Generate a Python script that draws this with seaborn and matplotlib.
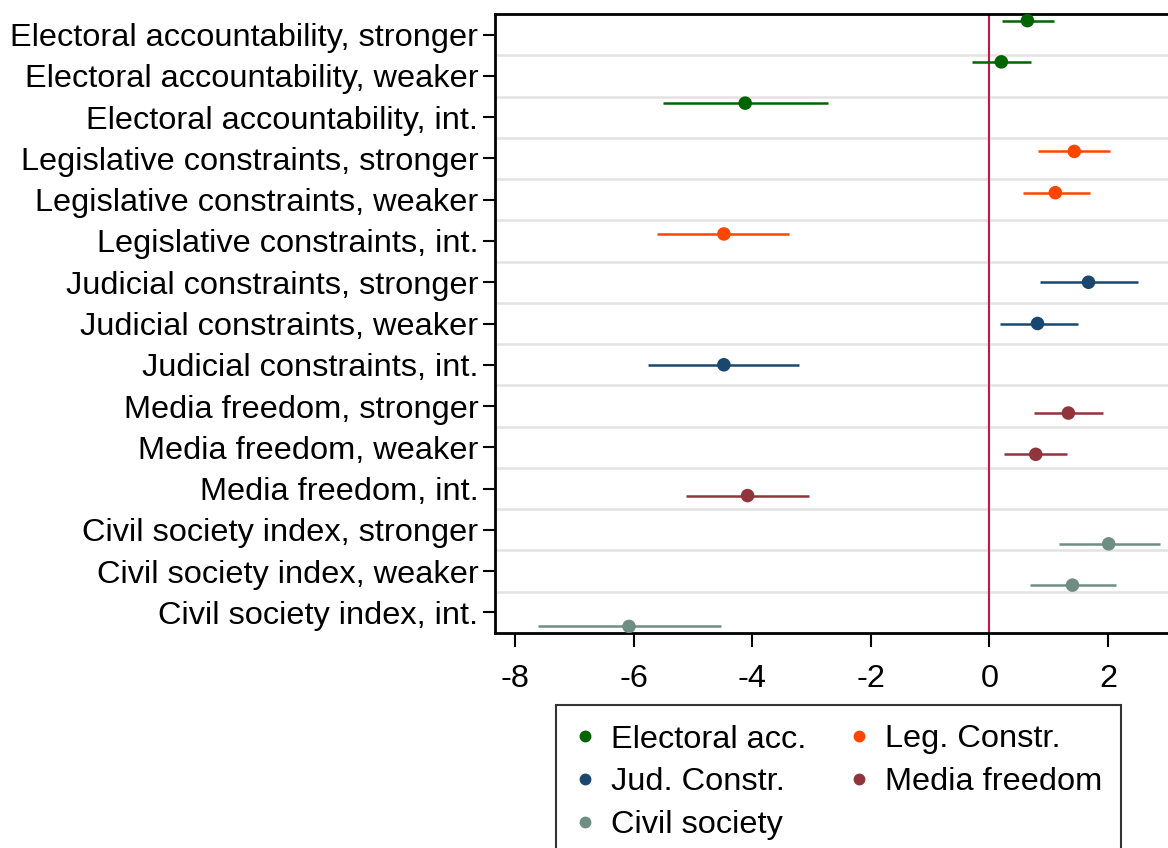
import numpy as np
import pandas as pd
import seaborn as sns
import matplotlib.pyplot as plt
from matplotlib.lines import Line2D

# Coefficients and 95% CIs, one list per index
series = ["Electoral acc.", "Leg. Constr.", "Jud. Constr.", "Media freedom", "Civil society"]
long_names = ["Electoral accountability", "Legislative constraints", "Judicial constraints",
              "Media freedom", "Civil society index"]
kinds = ["stronger", "weaker", "int."]

coef_elec = [0.64, 0.20, -4.12]
lo_elec = [0.21, -0.30, -5.50]
hi_elec = [1.08, 0.70, -2.72]

coef_leg = [1.43, 1.11, -4.48]
lo_leg = [0.82, 0.56, -5.60]
hi_leg = [2.04, 1.70, -3.38]

coef_jud = [1.67, 0.81, -4.48]
lo_jud = [0.86, 0.17, -5.76]
hi_jud = [2.50, 1.49, -3.21]

coef_med = [1.33, 0.78, -4.08]
lo_med = [0.75, 0.24, -5.12]
hi_med = [1.92, 1.31, -3.05]

coef_civ = [2.01, 1.40, -6.08]
lo_civ = [1.18, 0.68, -7.61]
hi_civ = [2.87, 2.14, -4.53]

colors = ["#006400", "#FF4500", "#1A476F", "#90353B", "#6E8E84"]

coefs = [coef_elec, coef_leg, coef_jud, coef_med, coef_civ]
los = [lo_elec, lo_leg, lo_jud, lo_med, lo_civ]
his = [hi_elec, hi_leg, hi_jud, hi_med, hi_civ]

rows = []
labels = []
for s, (name, lname) in enumerate(zip(series, long_names)):
    for k, kind in enumerate(kinds):
        idx = s * 3 + k
        labels.append(f"{lname}, {kind}")
        rows.append({"series": name, "idx": idx, "pos": idx + (s - 2) * 0.17,
                     "coef": coefs[s][k], "lo": los[s][k], "hi": his[s][k]})
df = pd.DataFrame(rows)

sns.set_style("white")
plt.rcParams["font.family"] = ["Liberation Sans", "DejaVu Sans"]

fig = plt.figure(figsize=(11.68, 8.48), dpi=100)
ax = fig.add_axes([495 / 1168, 1 - 633 / 848, 1 - 495 / 1168 + 0.002, (633 - 14) / 848])

# gridlines between categories
for g in np.arange(0.5, len(labels) - 1, 1.0):
    ax.axhline(g, color="#E3E3E3", lw=1.8, zorder=0)
ax.axvline(0, color="#C8144A", lw=1.5, zorder=1)

pal = dict(zip(series, colors))
for name in series:
    d = df[df["series"] == name]
    ax.hlines(d["pos"], d["lo"], d["hi"], color=pal[name], lw=1.8, zorder=2)
sns.scatterplot(data=df, x="coef", y="pos", hue="series", palette=pal, s=95,
                edgecolor="none", legend=False, ax=ax, zorder=3)

ax.set_xlim(-8.34, 3.05)
ax.set_ylim(len(labels) - 0.5, -0.5)
ax.set_yticks(range(len(labels)))
ax.set_yticklabels(labels)
ax.set_xticks([-8, -6, -4, -2, 0, 2])
ax.set_xticklabels(["-8", "-6", "-4", "-2", "0", "2"])
ax.set_xlabel("")
ax.set_ylabel("")
ax.tick_params(axis="both", direction="out", width=1.5, labelsize=23.4, colors="black",
               left=True, bottom=True)
ax.tick_params(axis="y", length=9, pad=3)
ax.tick_params(axis="x", length=10, pad=12)
for side in ["left", "bottom", "top"]:
    ax.spines[side].set_color("black")
    ax.spines[side].set_linewidth(2)
ax.spines["right"].set_visible(False)

order = [0, 2, 4, 1, 3]
handles = [Line2D([], [], ls="none", marker="o", ms=7.5, color=colors[i]) for i in order]
leg = fig.legend(handles, [series[i] for i in order], ncol=2, loc="upper left",
                 bbox_to_anchor=(556 / 1168, 1 - 705 / 848), fontsize=23.4, frameon=True,
                 fancybox=False, edgecolor="black", handletextpad=0.5, columnspacing=1.3,
                 labelspacing=0.4, borderpad=0.6, handlelength=0.6, borderaxespad=0,
                 labelcolor="black")
leg.get_frame().set_linewidth(1.5)

fig.savefig("out.png", dpi=100)
